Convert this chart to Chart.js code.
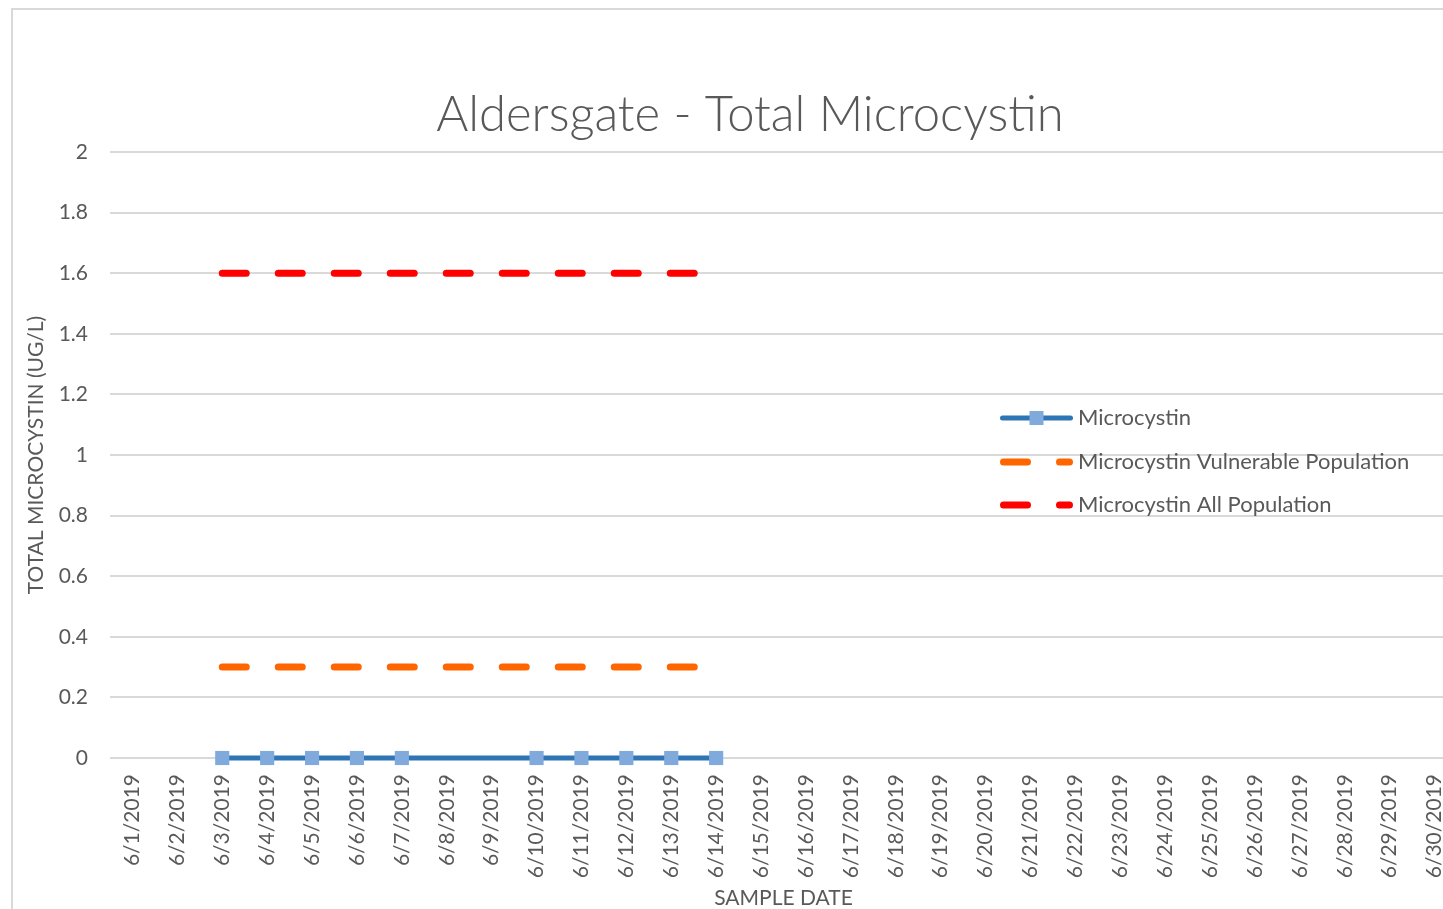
<!DOCTYPE html>
<html>
<head>
<meta charset="utf-8">
<script src="https://cdn.jsdelivr.net/npm/chart.js@4.4.1/dist/chart.umd.min.js"></script>
<style>
  html, body { margin: 0; padding: 0; background: #ffffff; overflow: hidden; width: 1443px; height: 909px; }
  #frame { position: absolute; left: 11px; top: 8px; width: 1500px; height: 1000px; border: 2px solid #d9d9d9; box-sizing: border-box; }
  #wrap { position: absolute; left: 0; top: 0; width: 1500px; height: 915px; }
</style>
</head>
<body>
<div id="frame"></div>
<div id="wrap"><canvas id="c" width="1500" height="915"></canvas></div>
<script>
const categories = [
  '6/1/2019','6/2/2019','6/3/2019','6/4/2019','6/5/2019','6/6/2019','6/7/2019','6/8/2019','6/9/2019','6/10/2019',
  '6/11/2019','6/12/2019','6/13/2019','6/14/2019','6/15/2019','6/16/2019','6/17/2019','6/18/2019','6/19/2019','6/20/2019',
  '6/21/2019','6/22/2019','6/23/2019','6/24/2019','6/25/2019','6/26/2019','6/27/2019','6/28/2019','6/29/2019','6/30/2019'
];
const microcystin = [null,null,0,0,0,0,0,null,null,0,0,0,0,0,null,null,null,null,null,null,null,null,null,null,null,null,null,null,null,null];
const vulnerablePopulation = [null,null,0.3,0.3,0.3,0.3,0.3,0.3,0.3,0.3,0.3,0.3,0.3,0.3,null,null,null,null,null,null,null,null,null,null,null,null,null,null,null,null];
const allPopulation = [null,null,1.6,1.6,1.6,1.6,1.6,1.6,1.6,1.6,1.6,1.6,1.6,1.6,null,null,null,null,null,null,null,null,null,null,null,null,null,null,null,null];
const seriesNames = ['Microcystin','Microcystin Vulnerable Population','Microcystin All Population'];
const chartTitle = 'Aldersgate - Total Microcystin';
const yMin = 0, yMax = 2, yStep = 0.2;

const TXT = '#595959';
const FONT = 'Lato, "Open Sans", sans-serif';

const titleLegendPlugin = {
  id: 'titleLegend',
  afterDraw(chart) {
    const ctx = chart.ctx;
    // chart title
    ctx.save();
    ctx.fillStyle = TXT;
    ctx.font = '300 49px ' + FONT;
    ctx.textAlign = 'center';
    ctx.textBaseline = 'middle';
    ctx.fillText(chartTitle, 750, 115);
    ctx.restore();
    // legend
    const rows = [418, 462, 505];
    const x0 = 1000, x1 = 1073, tx = 1078;
    chart.data.datasets.forEach((ds, i) => {
      const y = rows[i];
      ctx.save();
      ctx.strokeStyle = ds.borderColor;
      ctx.lineWidth = ds.borderWidth;
      ctx.lineCap = 'round';
      if (ds.borderDash) ctx.setLineDash(ds.borderDash);
      ctx.beginPath();
      ctx.moveTo(x0 + ds.borderWidth / 2, y);
      ctx.lineTo(x1 - ds.borderWidth / 2, y);
      ctx.stroke();
      if (!ds.borderDash) {
        ctx.setLineDash([]);
        ctx.fillStyle = ds.pointBackgroundColor;
        const s = 14;
        ctx.fillRect((x0 + x1) / 2 - s / 2, y - s / 2, s, s);
      }
      ctx.restore();
      ctx.save();
      ctx.fillStyle = TXT;
      ctx.font = '22px ' + FONT;
      ctx.textBaseline = 'middle';
      ctx.textAlign = 'left';
      ctx.fillText(ds.label, tx, y);
      ctx.restore();
    });
  }
};

new Chart(document.getElementById('c'), {
  type: 'line',
  data: {
    labels: categories,
    datasets: [
      {
        label: seriesNames[0],
        data: microcystin,
        borderColor: '#2E75B6',
        borderWidth: 5,
        pointStyle: 'rect',
        pointRadius: 10,
        pointBackgroundColor: '#7FAADB',
        pointBorderColor: '#7FAADB',
        pointBorderWidth: 0,
        spanGaps: true,
        clip: false,
        order: 0
      },
      {
        label: seriesNames[1],
        data: vulnerablePopulation,
        borderColor: '#FF6600',
        borderWidth: 7,
        borderDash: [24, 32],
        borderCapStyle: 'round',
        pointRadius: 0,
        clip: false,
        order: 1
      },
      {
        label: seriesNames[2],
        data: allPopulation,
        borderColor: '#FF0000',
        borderWidth: 7,
        borderDash: [24, 32],
        borderCapStyle: 'round',
        pointRadius: 0,
        clip: false,
        order: 2
      }
    ]
  },
  options: {
    responsive: false,
    animation: false,
    devicePixelRatio: 1,
    layout: { padding: { left: 0, right: 43, top: 152, bottom: 0 } },
    plugins: {
      legend: { display: false },
      tooltip: { enabled: false },
      title: { display: false }
    },
    scales: {
      x: {
        offset: true,
        grid: { display: false, drawTicks: false },
        border: { display: false },
        ticks: {
          autoSkip: false, maxRotation: 90, minRotation: 90,
          color: TXT, padding: 16,
          font: { family: FONT, size: 21 }
        },
        title: {
          display: true, text: 'SAMPLE DATE', color: TXT,
          font: { family: FONT, size: 21 },
          padding: { top: 0, bottom: 4 }
        },
        afterFit(s) { s.height = 157; }
      },
      y: {
        min: yMin, max: yMax,
        grid: { color: '#d9d9d9', lineWidth: 2, drawTicks: false },
        border: { display: false },
        ticks: {
          stepSize: yStep, color: TXT, padding: 22,
          font: { family: FONT, size: 21 },
          callback: (v) => String(Math.round(v * 10) / 10)
        },
        title: {
          display: true, text: 'TOTAL MICROCYSTIN (UG/L)', color: TXT,
          font: { family: FONT, size: 21 },
          padding: { top: 24, bottom: 0 }
        },
        afterFit(s) { s.width = 110; }
      }
    }
  },
  plugins: [titleLegendPlugin]
});
</script>
</body>
</html>
